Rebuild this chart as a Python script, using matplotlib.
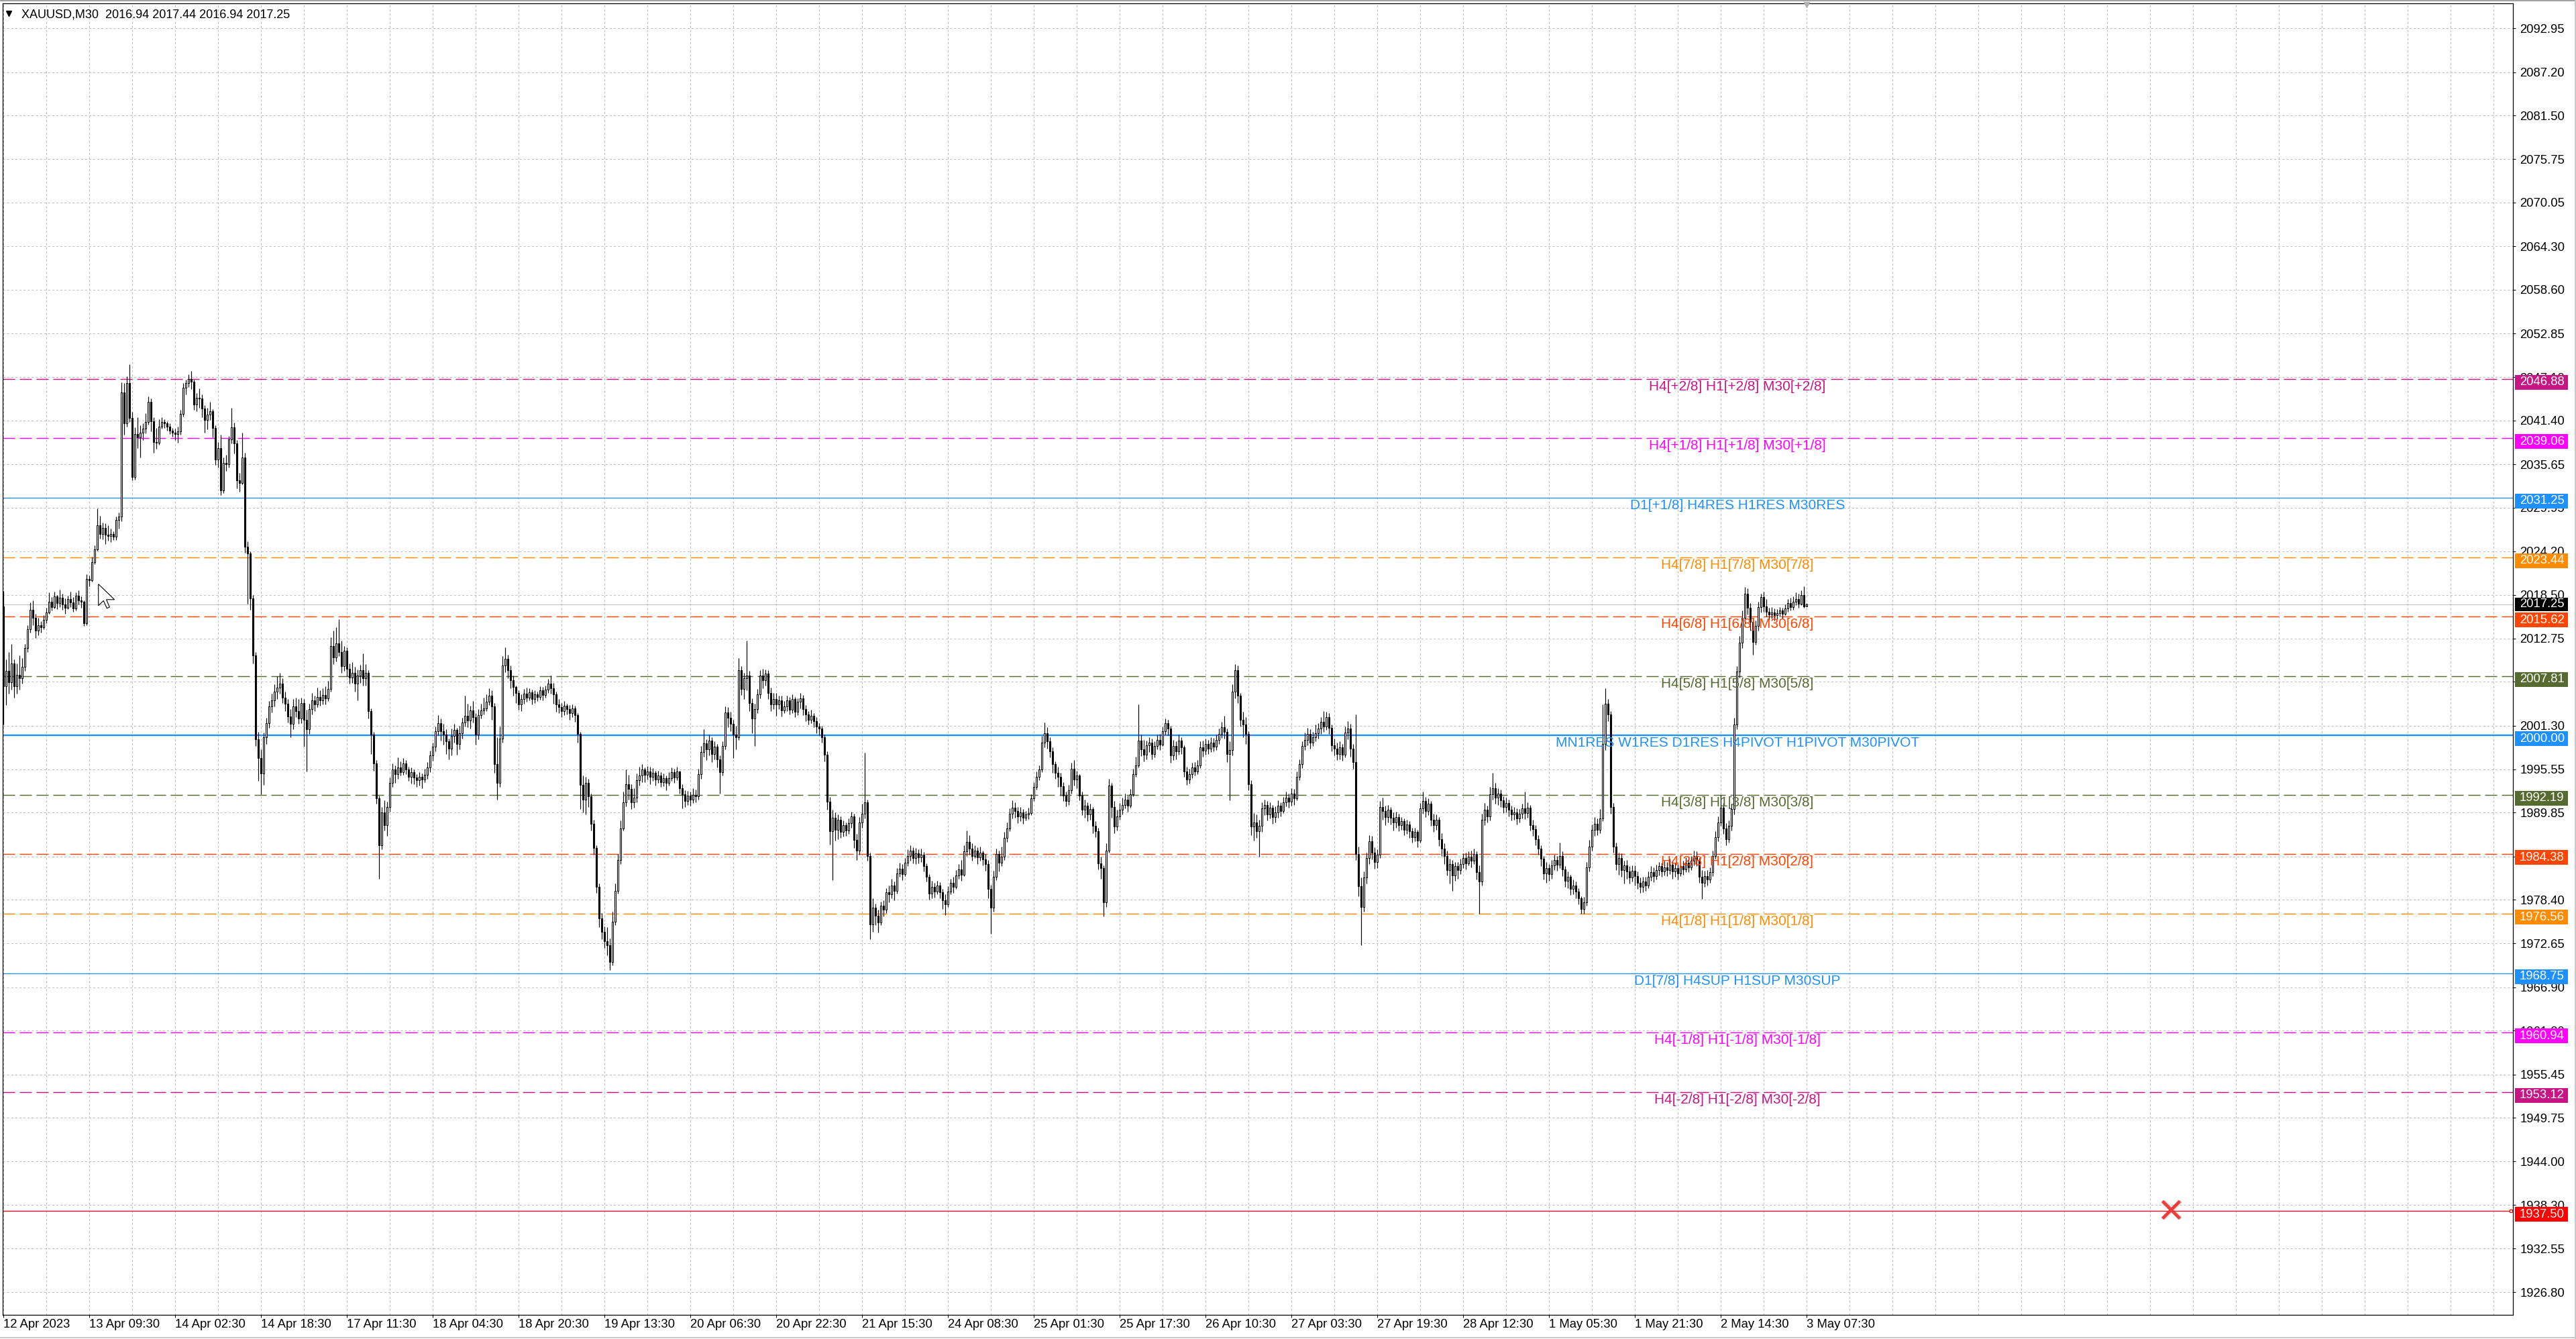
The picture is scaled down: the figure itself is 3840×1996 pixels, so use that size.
import numpy as np
import matplotlib
matplotlib.use("Agg")
import matplotlib.pyplot as plt
from matplotlib.patches import Rectangle, Polygon
from matplotlib.transforms import blended_transform_factory
from matplotlib.lines import Line2D

plt.rcParams['lines.scale_dashes'] = False
plt.rcParams['font.family'] = ['Liberation Sans', 'DejaVu Sans']

# ---------------- data ----------------
title_text = "XAUUSD,M30  2016.94 2017.44 2016.94 2017.25"

first_open = 2017.0

close = [
    2006.5, 2008.5, 2007.0, 2009.5, 2006.5, 2008.0, 2007.5, 2009.0, 2011.5, 2014.0, 2016.5, 2015.5, 2013.8, 2014.5, 2014.2, 2015.2,
    2016.2, 2017.6, 2016.9, 2018.3, 2017.4, 2018.1, 2017.2, 2016.8, 2017.9, 2017.5, 2016.7, 2018.4, 2017.8, 2017.6, 2014.8, 2020.6,
    2020.4, 2022.8, 2024.5, 2027.6, 2026.5, 2027.3, 2026.4, 2026.2, 2026.5, 2026.1, 2028.3, 2028.8, 2045.1, 2041.0, 2046.3, 2041.7,
    2034.0, 2039.6, 2039.2, 2039.8, 2040.3, 2041.2, 2043.9, 2041.3, 2038.6, 2038.5, 2040.6, 2041.2, 2041.0, 2040.6, 2040.1, 2039.8,
    2039.6, 2040.0, 2042.3, 2045.7, 2046.3, 2046.9, 2046.5, 2043.5, 2044.4, 2044.3, 2043.0, 2041.5, 2042.2, 2042.6, 2040.4, 2036.3,
    2037.8, 2032.2, 2035.8, 2035.7, 2038.9, 2040.5, 2038.4, 2033.5, 2033.2, 2036.5, 2024.8, 2023.9, 2018.0, 2010.5, 1999.5, 1997.0,
    1995.0, 1999.8, 2001.6, 2003.8, 2004.6, 2005.8, 2006.3, 2006.8, 2005.0, 2004.2, 2002.5, 2001.5, 2003.8, 2003.2, 2002.2, 2004.3,
    2002.1, 2000.8, 2003.5, 2004.6, 2004.1, 2005.1, 2004.6, 2005.3, 2004.9, 2006.1, 2011.8, 2010.3, 2012.1, 2011.0, 2009.1, 2011.1,
    2008.8, 2007.6, 2008.2, 2006.8, 2007.9, 2008.6, 2007.5, 2008.2, 2003.2, 2000.1, 1996.3, 1991.7, 1985.6, 1989.9, 1988.2, 1990.6,
    1993.8, 1995.5, 1994.9, 1995.8, 1995.2, 1996.3, 1995.5, 1994.6, 1995.2, 1994.5, 1994.1, 1994.6, 1994.2, 1994.8, 1995.8, 1997.4,
    1998.5, 2000.6, 2001.6, 2000.6, 2000.1, 1999.2, 1998.3, 1999.9, 2000.7, 1998.9, 2000.3, 2001.7, 2002.6, 2002.0, 2003.3, 2002.4,
    2000.1, 2002.7, 2003.3, 2003.6, 2004.4, 2005.2, 2003.8, 1996.2, 1993.8, 1999.6, 2009.2, 2010.1, 2008.6, 2007.3, 2006.4, 2005.6,
    2004.1, 2004.8, 2005.5, 2005.0, 2005.7, 2004.8, 2005.4, 2005.1, 2005.9, 2005.3, 2006.0, 2006.8, 2006.2, 2005.4, 2004.1, 2003.7,
    2003.2, 2003.9, 2003.5, 2002.9, 2003.6, 2002.7, 2000.2, 1993.5, 1991.6, 1993.8, 1992.0, 1988.4, 1985.2, 1980.1, 1976.0, 1974.2,
    1973.0, 1972.4, 1970.2, 1975.5, 1979.6, 1983.6, 1987.8, 1991.2, 1993.6, 1993.0, 1991.2, 1991.8, 1994.1, 1994.7, 1995.5, 1994.8,
    1995.3, 1994.6, 1995.1, 1994.2, 1994.7, 1993.9, 1994.4, 1993.8, 1994.4, 1995.2, 1994.5, 1995.3, 1993.1, 1992.3, 1991.4, 1992.1,
    1991.6, 1992.2, 1992.0, 1994.9, 1997.8, 1999.0, 1998.2, 1999.3, 1997.6, 1998.5, 1996.9, 1995.2, 1998.6, 2003.0, 2002.3, 2001.5,
    2000.1, 1999.8, 2008.6, 2006.1, 2007.5, 2007.9, 2004.3, 2002.2, 2003.5, 2005.4, 2007.9, 2007.3, 2008.1, 2005.6, 2004.1, 2004.8,
    2004.1, 2004.6, 2003.3, 2003.8, 2004.6, 2003.4, 2004.8, 2003.1, 2004.4, 2004.9, 2003.5, 2002.8, 2002.1, 2002.6, 2001.9, 2001.2,
    2000.9, 1999.8, 1997.5, 1991.3, 1987.4, 1989.2, 1987.6, 1988.9, 1987.3, 1988.2, 1987.5, 1988.5, 1989.4, 1986.3, 1984.9, 1988.6,
    1989.7, 1991.2, 1984.2, 1975.2, 1977.4, 1976.3, 1975.4, 1977.6, 1977.1, 1979.4, 1979.1, 1980.3, 1979.6, 1981.9, 1982.5, 1981.8,
    1983.3, 1984.2, 1984.9, 1983.9, 1984.5, 1984.0, 1984.3, 1982.8, 1981.4, 1979.2, 1980.1, 1979.5, 1980.3, 1979.4, 1978.3, 1977.8,
    1979.5, 1980.6, 1980.1, 1981.6, 1982.4, 1981.7, 1984.8, 1986.0, 1985.1, 1984.2, 1984.9, 1984.0, 1984.6, 1983.7, 1983.1, 1979.8,
    1977.4, 1981.4, 1984.4, 1983.3, 1984.1, 1986.5, 1987.8, 1989.7, 1990.5, 1990.1, 1989.4, 1989.9, 1989.2, 1989.6, 1989.8, 1991.7,
    1993.2, 1994.6, 1995.5, 1999.1, 2000.3, 1999.2, 1997.9, 1996.2, 1995.1, 1994.6, 1993.3, 1992.1, 1991.4, 1992.8, 1995.6, 1994.2,
    1994.7, 1992.1, 1990.2, 1990.8, 1989.6, 1990.3, 1988.1, 1987.4, 1983.2, 1982.6, 1978.1, 1984.9, 1993.4, 1990.6, 1988.0, 1989.4,
    1990.2, 1990.9, 1991.6, 1990.8, 1992.3, 1994.9, 1996.1, 1999.3, 1998.2, 1997.5, 1998.7, 1999.1, 1997.6, 1998.6, 1999.4, 1998.8,
    2000.6, 2001.6, 2000.9, 1997.4, 1998.6, 1997.9, 1999.3, 1998.4, 1995.3, 1994.2, 1994.9, 1995.8, 1995.3, 1996.1, 1998.4, 1998.0,
    1998.9, 1998.3, 1999.1, 1998.5, 1999.4, 2000.2, 2001.1, 2000.5, 1997.6, 1998.1, 2005.8, 2008.6, 2005.2, 2002.1, 2001.4, 2000.2,
    1993.6, 1988.0, 1988.6, 1987.4, 1988.1, 1990.4, 1990.9, 1989.6, 1990.5, 1989.3, 1989.9, 1990.8, 1990.1, 1991.2, 1991.8, 1991.3,
    1992.4, 1991.7, 1994.6, 1996.2, 1998.6, 1999.4, 2000.2, 1999.1, 1999.8, 2000.3, 2000.9, 2001.8, 2001.2, 2002.4, 2001.0, 1998.7,
    1998.3, 1997.6, 1998.4, 1997.5, 2000.4, 2000.9, 1998.3, 1996.5, 1984.4, 1980.2, 1977.5, 1981.3, 1983.9, 1986.1, 1984.6, 1983.4,
    1984.3, 1990.6, 1990.1, 1989.3, 1990.2, 1989.2, 1988.6, 1989.3, 1988.2, 1988.7, 1987.6, 1988.3, 1987.4, 1986.6, 1987.3, 1986.2,
    1990.4, 1991.4, 1990.1, 1991.0, 1988.9, 1988.2, 1988.9, 1986.4, 1985.1, 1984.2, 1982.3, 1983.1, 1981.6, 1982.8, 1982.3, 1983.1,
    1983.9, 1983.2, 1984.1, 1983.5, 1984.4, 1982.0, 1980.8, 1988.9, 1990.2, 1989.4, 1992.3, 1993.1, 1991.8, 1992.4, 1991.5, 1990.6,
    1991.1, 1990.2, 1989.6, 1989.9, 1989.1, 1989.7, 1990.4, 1989.8, 1990.5, 1988.2, 1987.7, 1986.4, 1985.1, 1983.8, 1981.9, 1982.6,
    1981.8, 1982.9, 1983.6, 1983.0, 1984.2, 1982.4, 1980.9, 1981.4, 1979.8, 1980.3, 1979.5, 1978.6, 1977.2, 1978.1, 1982.7, 1985.4,
    1987.6, 1988.4, 1987.6, 1989.1, 1998.9, 2004.2, 2002.8, 1990.6, 1985.4, 1983.1, 1983.9, 1982.3, 1982.9, 1982.1, 1981.3, 1982.2,
    1981.5, 1980.6, 1980.1, 1980.8, 1980.3, 1981.4, 1982.0, 1981.5, 1982.3, 1982.8, 1982.1, 1982.7, 1982.3, 1983.0, 1982.1, 1982.6,
    1981.9, 1982.8, 1982.4, 1983.3, 1982.7, 1983.5, 1984.2, 1983.6, 1981.4, 1980.6, 1981.5, 1981.1, 1982.0, 1984.2, 1986.6, 1988.6,
    1990.5, 1987.8, 1986.4, 1988.1, 1990.3, 2001.4, 2008.4, 2012.2, 2015.5, 2018.6, 2016.8, 2014.9, 2012.3, 2014.4, 2016.9, 2018.2,
    2017.0, 2016.3, 2015.9, 2016.2, 2015.8, 2016.1, 2016.4, 2016.0, 2016.7, 2017.4, 2016.9, 2017.6, 2017.9, 2017.3, 2018.5, 2016.94, 2017.25,
]

high = [
    2019.0, 2010.0, 2011.0, 2012.0, 2010.0, 2009.5, 2010.5, 2010.2, 2012.0, 2014.5, 2017.5, 2017.8, 2016.0, 2015.5, 2015.0, 2015.8,
    2016.8, 2018.8, 2018.2, 2018.9, 2018.5, 2019.2, 2018.6, 2018.0, 2018.4, 2018.9, 2018.2, 2018.8, 2019.1, 2018.3, 2017.8, 2021.2,
    2021.0, 2023.5, 2025.0, 2029.8, 2028.9, 2028.0, 2027.9, 2027.6, 2027.2, 2026.8, 2028.8, 2029.3, 2046.4, 2046.3, 2047.2, 2048.8,
    2042.5, 2040.5, 2041.8, 2040.8, 2041.0, 2042.4, 2044.6, 2044.3, 2041.8, 2040.4, 2041.6, 2041.8, 2041.6, 2041.3, 2041.0, 2040.4,
    2040.3, 2040.6, 2042.8, 2046.3, 2046.8, 2047.5, 2047.9, 2046.8, 2045.0, 2045.6, 2044.8, 2043.4, 2043.1, 2043.9, 2042.9, 2040.8,
    2038.6, 2039.5, 2036.5, 2036.9, 2039.4, 2043.1, 2041.1, 2038.8, 2034.5, 2039.8, 2037.2, 2025.5, 2024.2, 2018.5, 2011.0, 2000.5,
    1998.2, 2000.4, 2002.3, 2004.5, 2005.5, 2006.7, 2007.8, 2008.2, 2007.5, 2005.8, 2004.8, 2003.5, 2004.8, 2005.0, 2004.8, 2005.0,
    2004.8, 2003.4, 2004.2, 2005.6, 2005.2, 2006.3, 2005.9, 2006.2, 2006.5, 2007.2, 2012.9, 2013.8, 2014.2, 2015.3, 2012.5, 2011.8,
    2011.6, 2009.5, 2009.6, 2009.0, 2008.7, 2009.3, 2010.8, 2009.4, 2008.6, 2003.6, 2000.5, 1996.8, 1992.1, 1990.6, 1991.5, 1991.3,
    1994.5, 1996.3, 1996.1, 1997.1, 1996.6, 1997.0, 1996.8, 1995.9, 1995.8, 1995.5, 1994.9, 1995.2, 1995.0, 1995.6, 1996.5, 1998.0,
    1999.1, 2001.2, 2002.7, 2002.2, 2001.5, 2000.8, 1999.6, 2000.9, 2001.5, 2001.0, 2001.3, 2002.3, 2005.2, 2004.2, 2003.9, 2004.5,
    2002.9, 2003.5, 2004.2, 2005.0, 2005.4, 2006.2, 2005.9, 2004.3, 1999.8, 2001.2, 2010.4, 2011.6, 2010.6, 2009.2, 2007.9, 2006.6,
    2005.9, 2005.4, 2006.1, 2006.3, 2006.2, 2006.0, 2005.9, 2005.8, 2006.5, 2006.4, 2006.6, 2007.4, 2007.9, 2006.9, 2005.8, 2004.8,
    2004.3, 2004.5, 2004.2, 2004.0, 2004.1, 2003.9, 2002.9, 2000.5, 1994.7, 1994.6, 1994.3, 1992.4, 1988.9, 1985.6, 1980.5, 1976.7,
    1974.9, 1974.8, 1973.3, 1976.8, 1980.5, 1984.4, 1988.8, 1992.6, 1995.5, 1994.8, 1993.6, 1993.1, 1995.0, 1995.9, 1996.2, 1995.8,
    1996.0, 1995.9, 1995.7, 1995.4, 1995.4, 1995.2, 1995.0, 1994.7, 1995.2, 1995.8, 1995.6, 1995.9, 1995.4, 1993.6, 1992.8, 1992.7,
    1992.6, 1993.1, 1992.9, 1995.6, 1998.6, 2000.8, 1999.5, 2000.1, 1999.8, 1999.2, 1998.9, 1997.4, 1999.2, 2003.8, 2003.7, 2003.1,
    2002.1, 2001.3, 2010.2, 2009.1, 2008.2, 2012.5, 2008.5, 2004.9, 2004.2, 2006.1, 2008.6, 2008.8, 2008.7, 2008.6, 2006.3, 2005.6,
    2005.6, 2005.2, 2005.2, 2004.5, 2005.2, 2005.1, 2005.4, 2005.1, 2004.9, 2005.6, 2005.3, 2004.0, 2003.2, 2003.4, 2002.9, 2002.4,
    2001.6, 2001.3, 2000.1, 1997.9, 1991.9, 1990.2, 1989.9, 1989.6, 1989.4, 1988.8, 1988.6, 1989.1, 1990.0, 1989.7, 1987.1, 1989.3,
    1991.0, 1997.7, 1991.6, 1984.6, 1978.6, 1977.9, 1977.1, 1978.2, 1978.3, 1979.9, 1980.3, 1981.2, 1980.8, 1982.6, 1983.3, 1983.1,
    1983.9, 1985.0, 1985.6, 1985.3, 1985.2, 1985.0, 1985.1, 1984.7, 1983.2, 1981.8, 1980.9, 1980.6, 1980.9, 1980.7, 1979.8, 1979.1,
    1980.2, 1981.2, 1981.4, 1982.3, 1983.1, 1983.6, 1985.6, 1987.5, 1986.9, 1985.8, 1985.6, 1985.3, 1985.4, 1984.9, 1984.4, 1983.6,
    1980.4, 1982.2, 1985.1, 1984.9, 1985.4, 1987.3, 1988.6, 1990.4, 1991.5, 1991.2, 1990.6, 1990.6, 1990.3, 1990.1, 1990.5, 1992.3,
    1993.9, 1995.3, 1996.1, 1999.9, 2001.7, 2001.1, 1999.8, 1998.4, 1996.6, 1995.9, 1995.1, 1993.9, 1992.6, 1993.5, 1996.4, 1996.8,
    1995.4, 1994.9, 1992.6, 1991.6, 1991.2, 1991.0, 1990.6, 1988.7, 1987.9, 1984.1, 1982.9, 1985.8, 1994.3, 1993.8, 1991.4, 1990.2,
    1991.1, 1991.8, 1992.4, 1992.1, 1993.0, 1995.6, 1997.2, 2004.1, 2000.1, 1999.4, 1999.3, 1999.8, 1999.6, 1999.2, 2000.1, 2000.2,
    2001.2, 2002.2, 2002.1, 2001.3, 1999.4, 1999.2, 2000.1, 1999.8, 1998.7, 1995.9, 1995.6, 1996.4, 1996.5, 1996.8, 1999.2, 1999.3,
    1999.6, 1999.4, 1999.8, 1999.7, 2000.1, 2000.9, 2001.8, 2002.6, 2000.9, 1999.2, 2006.7, 2009.4, 2009.2, 2005.6, 2003.1, 2002.4,
    2000.6, 1994.1, 1989.8, 1989.6, 1988.9, 1991.2, 1991.6, 1991.4, 1991.2, 1990.9, 1990.7, 1991.5, 1991.2, 1991.9, 1992.6, 1992.4,
    1993.1, 1993.0, 1995.3, 1996.9, 1999.2, 2000.4, 2001.0, 2000.8, 2000.5, 2001.4, 2001.6, 2002.4, 2003.2, 2003.1, 2002.9, 2001.4,
    1999.6, 1999.1, 1999.2, 1998.9, 2001.2, 2001.9, 2001.5, 1998.9, 2002.8, 1985.4, 1981.3, 1982.1, 1984.6, 1986.9, 1986.8, 1985.3,
    1985.0, 1991.4, 1991.8, 1990.8, 1990.9, 1990.6, 1989.9, 1990.0, 1989.7, 1989.3, 1989.1, 1988.9, 1988.7, 1987.9, 1987.9, 1987.6,
    1991.1, 1992.6, 1991.9, 1991.7, 1991.4, 1989.7, 1989.6, 1989.3, 1987.2, 1985.8, 1984.9, 1983.8, 1983.6, 1983.4, 1983.4, 1983.8,
    1984.5, 1984.6, 1984.8, 1984.9, 1985.1, 1984.8, 1982.9, 1989.7, 1991.1, 1990.8, 1993.2, 1995.1, 1993.8, 1993.1, 1992.9, 1992.0,
    1991.8, 1991.6, 1990.8, 1990.6, 1990.4, 1990.3, 1991.0, 1992.6, 1991.2, 1990.9, 1988.9, 1988.2, 1986.9, 1985.6, 1984.2, 1983.4,
    1983.1, 1983.6, 1984.3, 1984.2, 1985.9, 1984.8, 1982.8, 1982.1, 1981.7, 1981.1, 1980.8, 1979.9, 1978.9, 1978.8, 1983.4, 1986.3,
    1988.3, 1989.3, 1989.1, 1990.3, 2004.1, 2006.2, 2004.8, 2003.2, 1991.1, 1985.9, 1984.6, 1984.5, 1983.5, 1983.6, 1982.8, 1982.9,
    1982.9, 1982.1, 1981.3, 1981.4, 1981.4, 1982.1, 1982.8, 1982.7, 1983.0, 1983.4, 1983.3, 1983.5, 1983.4, 1983.8, 1983.5, 1983.3,
    1983.1, 1983.4, 1983.5, 1984.0, 1984.1, 1984.2, 1984.9, 1984.8, 1983.9, 1982.3, 1982.2, 1982.3, 1982.7, 1984.9, 1987.4, 1989.4,
    1992.2, 1991.1, 1988.5, 1988.8, 1991.0, 2002.3, 2009.1, 2013.1, 2016.4, 2019.5, 2019.3, 2017.4, 2015.5, 2015.1, 2017.6, 2018.6,
    2018.9, 2017.9, 2016.8, 2016.9, 2016.7, 2016.6, 2016.9, 2016.8, 2017.2, 2017.9, 2018.1, 2018.3, 2018.8, 2018.6, 2019.1, 2019.6, 2017.44,
]

low = [
    2001.4, 2004.0, 2005.5, 2006.0, 2005.0, 2005.5, 2006.0, 2006.8, 2008.5, 2011.0, 2013.5, 2014.5, 2012.8, 2013.2, 2013.5, 2014.0,
    2014.8, 2016.0, 2016.4, 2016.7, 2016.6, 2016.9, 2016.5, 2016.0, 2016.6, 2016.9, 2016.3, 2016.4, 2017.2, 2016.8, 2014.4, 2014.5,
    2019.6, 2020.2, 2022.5, 2024.3, 2025.9, 2025.8, 2025.2, 2025.6, 2025.4, 2025.7, 2025.7, 2027.2, 2028.2, 2039.5, 2040.6, 2041.2,
    2033.5, 2033.6, 2037.8, 2036.5, 2038.8, 2039.7, 2040.9, 2040.0, 2037.2, 2037.7, 2038.2, 2040.3, 2040.4, 2040.1, 2039.6, 2039.3,
    2038.8, 2038.5, 2039.5, 2041.9, 2044.8, 2045.8, 2045.5, 2042.8, 2042.6, 2043.1, 2041.8, 2039.8, 2040.2, 2041.5, 2039.2, 2035.6,
    2035.2, 2031.6, 2031.9, 2034.8, 2035.2, 2038.4, 2037.1, 2032.5, 2032.0, 2033.0, 2024.0, 2017.3, 2016.5, 2009.5, 1998.6, 1994.0,
    1992.3, 1993.5, 1998.9, 2001.0, 2003.0, 2003.8, 2004.8, 2005.5, 2004.3, 2003.2, 2001.7, 1999.8, 2000.8, 2002.4, 2001.5, 2001.6,
    1998.5, 1995.3, 2000.2, 2002.8, 2003.2, 2003.7, 2003.9, 2004.1, 2004.1, 2004.5, 2005.8, 2009.4, 2009.7, 2010.4, 2008.2, 2008.5,
    2007.8, 2006.8, 2006.9, 2005.8, 2004.6, 2006.9, 2006.6, 2006.6, 2002.2, 1997.6, 1995.4, 1991.0, 1981.2, 1985.0, 1987.5, 1986.8,
    1990.0, 1993.2, 1993.8, 1994.3, 1994.7, 1994.8, 1994.9, 1994.0, 1993.7, 1993.6, 1993.2, 1993.4, 1993.1, 1993.9, 1994.3, 1995.2,
    1996.7, 1997.9, 2000.0, 1999.3, 1998.8, 1997.6, 1996.9, 1997.4, 1999.1, 1997.5, 1998.2, 1999.6, 2001.2, 2001.1, 2000.9, 2001.7,
    1998.8, 1999.5, 2002.2, 2002.8, 2003.2, 2004.0, 2002.1, 1995.1, 1991.6, 1993.2, 1999.1, 2008.3, 2007.5, 2006.2, 2005.2, 2004.3,
    2003.4, 2003.2, 2004.2, 2004.4, 2004.6, 2004.1, 2004.3, 2004.5, 2004.7, 2004.6, 2005.0, 2005.6, 2005.5, 2004.2, 2003.1, 2002.9,
    2002.4, 2002.7, 2002.8, 2002.1, 2002.4, 2001.8, 1999.1, 1990.3, 1989.9, 1989.6, 1990.6, 1987.5, 1984.3, 1979.3, 1974.8, 1973.2,
    1972.1, 1971.1, 1969.2, 1969.8, 1975.1, 1979.2, 1983.1, 1987.5, 1990.7, 1991.6, 1990.3, 1990.5, 1991.2, 1993.4, 1993.9, 1993.9,
    1994.2, 1993.6, 1994.0, 1993.4, 1993.8, 1993.2, 1993.3, 1992.8, 1993.4, 1994.0, 1993.8, 1994.1, 1992.4, 1990.4, 1990.6, 1990.9,
    1990.8, 1991.1, 1991.2, 1991.6, 1994.3, 1997.2, 1996.8, 1997.4, 1996.5, 1996.9, 1995.8, 1992.4, 1994.7, 1998.2, 2001.1, 2000.6,
    1997.0, 1998.2, 1999.4, 2005.3, 2004.8, 2005.9, 2003.2, 2000.3, 1998.6, 2002.9, 2004.9, 2006.2, 2006.6, 2004.8, 2003.2, 2003.5,
    2002.6, 2003.5, 2002.5, 2002.9, 2003.2, 2002.8, 2002.9, 2002.4, 2002.7, 2003.6, 2002.7, 2001.9, 2001.4, 2001.6, 2001.1, 2000.3,
    2000.0, 1999.1, 1996.6, 1990.2, 1985.7, 1981.0, 1986.2, 1986.4, 1986.5, 1986.7, 1986.8, 1987.1, 1987.9, 1985.2, 1983.6, 1984.3,
    1987.9, 1989.1, 1983.5, 1973.2, 1974.2, 1975.1, 1974.1, 1975.1, 1976.2, 1976.7, 1978.1, 1978.6, 1978.3, 1979.2, 1981.4, 1981.0,
    1981.5, 1982.8, 1983.5, 1983.2, 1983.1, 1983.2, 1983.4, 1982.1, 1980.8, 1978.4, 1978.6, 1978.7, 1979.1, 1978.6, 1977.2, 1976.4,
    1977.5, 1979.1, 1979.3, 1979.8, 1981.2, 1980.9, 1981.5, 1984.2, 1984.3, 1983.5, 1983.9, 1983.1, 1983.5, 1982.9, 1982.2, 1978.6,
    1973.9, 1976.8, 1981.0, 1982.1, 1982.8, 1983.6, 1986.0, 1987.4, 1989.1, 1989.2, 1988.5, 1988.7, 1988.4, 1988.8, 1989.0, 1989.5,
    1991.4, 1992.9, 1994.1, 1995.2, 1998.4, 1998.3, 1997.1, 1995.1, 1994.3, 1993.2, 1992.1, 1991.4, 1990.7, 1990.9, 1992.4, 1993.4,
    1993.1, 1991.5, 1989.5, 1989.2, 1988.7, 1988.9, 1987.2, 1986.6, 1982.4, 1981.2, 1976.2, 1977.5, 1984.6, 1989.2, 1987.2, 1987.5,
    1988.9, 1989.6, 1990.4, 1990.0, 1990.5, 1992.0, 1994.6, 1995.8, 1997.3, 1996.6, 1996.9, 1997.8, 1996.9, 1997.1, 1998.2, 1998.1,
    1998.6, 2000.1, 2000.0, 1996.4, 1996.8, 1996.9, 1997.5, 1997.6, 1994.6, 1993.5, 1993.7, 1994.4, 1994.7, 1994.9, 1995.7, 1997.2,
    1997.5, 1997.6, 1997.8, 1997.9, 1998.1, 1998.9, 1999.7, 1999.6, 1996.5, 1991.5, 1997.4, 2004.9, 2004.3, 2001.2, 1999.8, 1998.9,
    1992.8, 1986.9, 1986.2, 1986.5, 1984.1, 1987.3, 1989.5, 1988.8, 1989.1, 1988.4, 1988.6, 1989.2, 1989.4, 1989.8, 1990.7, 1990.5,
    1990.8, 1990.9, 1991.5, 1994.1, 1995.7, 1998.1, 1998.7, 1998.3, 1998.6, 1999.2, 1999.6, 2000.2, 2000.5, 2000.7, 2000.2, 1997.9,
    1997.4, 1996.8, 1996.9, 1996.7, 1997.1, 1999.5, 1997.2, 1995.6, 1983.6, 1978.9, 1972.4, 1976.8, 1980.5, 1983.1, 1983.7, 1982.5,
    1982.6, 1983.9, 1988.9, 1988.2, 1988.6, 1988.3, 1987.5, 1987.9, 1987.4, 1987.6, 1986.9, 1987.1, 1986.5, 1985.9, 1986.1, 1985.3,
    1985.9, 1989.7, 1989.3, 1989.5, 1988.1, 1987.3, 1987.6, 1985.5, 1984.2, 1983.1, 1981.6, 1980.5, 1979.6, 1980.9, 1981.2, 1981.8,
    1982.6, 1982.4, 1982.9, 1982.7, 1983.1, 1981.1, 1976.6, 1980.3, 1988.2, 1988.6, 1988.8, 1991.6, 1991.0, 1990.9, 1990.6, 1989.8,
    1989.9, 1989.4, 1988.8, 1988.9, 1988.3, 1988.6, 1989.1, 1989.0, 1989.2, 1987.5, 1986.8, 1985.6, 1984.3, 1982.8, 1981.1, 1980.6,
    1980.9, 1981.2, 1982.3, 1982.2, 1982.6, 1981.5, 1980.1, 1979.9, 1979.0, 1979.1, 1978.6, 1977.8, 1976.6, 1976.6, 1977.6, 1982.1,
    1984.9, 1986.8, 1986.9, 1987.2, 1988.7, 1998.1, 2001.9, 1989.7, 1984.6, 1982.3, 1981.7, 1981.4, 1980.5, 1981.2, 1980.5, 1980.8,
    1980.3, 1979.8, 1979.3, 1979.4, 1979.6, 1979.9, 1980.9, 1980.7, 1981.1, 1981.6, 1981.4, 1981.6, 1981.5, 1981.8, 1981.2, 1981.4,
    1981.1, 1981.5, 1981.7, 1982.0, 1982.0, 1982.3, 1982.9, 1982.8, 1980.6, 1978.5, 1980.1, 1980.3, 1980.6, 1981.5, 1983.8, 1986.1,
    1988.1, 1987.1, 1985.6, 1985.9, 1987.5, 1989.6, 2000.8, 2007.6, 2011.5, 2014.8, 2015.9, 2013.8, 2010.6, 2011.9, 2013.8, 2016.2,
    2016.3, 2015.6, 2015.2, 2015.4, 2015.1, 2015.3, 2015.6, 2015.4, 2015.8, 2016.3, 2016.4, 2016.5, 2017.1, 2016.8, 2017.1, 2016.8, 2016.94,
]

x_tick_labels = ["12 Apr 2023", "13 Apr 09:30", "14 Apr 02:30", "14 Apr 18:30", "17 Apr 11:30",
                 "18 Apr 04:30", "18 Apr 20:30", "19 Apr 13:30", "20 Apr 06:30", "20 Apr 22:30",
                 "21 Apr 15:30", "24 Apr 08:30", "25 Apr 01:30", "25 Apr 17:30", "26 Apr 10:30",
                 "27 Apr 03:30", "27 Apr 19:30", "28 Apr 12:30", "1 May 05:30", "1 May 21:30",
                 "2 May 14:30", "3 May 07:30"]

y_ticks = [2092.95, 2087.20, 2081.50, 2075.75, 2070.05, 2064.30, 2058.60, 2052.85, 2047.10,
           2041.40, 2035.65, 2029.95, 2024.20, 2018.50, 2012.75, 2007.05, 2001.30, 1995.55,
           1989.85, 1984.10, 1978.40, 1972.65, 1966.90, 1961.20, 1955.45, 1949.75, 1944.00,
           1938.30, 1932.55, 1926.80]

levels = [2046.88, 2039.06, 2031.25, 2023.44, 2015.62, 2007.81, 2000.00,
          1992.19, 1984.38, 1976.56, 1968.75, 1960.94, 1953.12]
level_labels = ["H4[+2/8] H1[+2/8] M30[+2/8]", "H4[+1/8] H1[+1/8] M30[+1/8]",
                "D1[+1/8] H4RES H1RES M30RES", "H4[7/8] H1[7/8] M30[7/8]",
                "H4[6/8] H1[6/8] M30[6/8]", "H4[5/8] H1[5/8] M30[5/8]",
                "MN1RES W1RES D1RES H4PIVOT H1PIVOT M30PIVOT",
                "H4[3/8] H1[3/8] M30[3/8]", "H4[2/8] H1[2/8] M30[2/8]",
                "H4[1/8] H1[1/8] M30[1/8]", "D1[7/8] H4SUP H1SUP M30SUP",
                "H4[-1/8] H1[-1/8] M30[-1/8]", "H4[-2/8] H1[-2/8] M30[-2/8]"]
current_price = 2017.25
stop_price = 1937.50

# ---------------- styles / layout ----------------
C_MVR, C_MAG, C_DB, C_DO = "#C71585", "#FF00FF", "#1E90FF", "#FF8C00"
C_OR, C_DOG, C_RED = "#FF4500", "#556B2F", "#FF0000"
level_colors = [C_MVR, C_MAG, C_DB, C_DO, C_OR, C_DOG, C_DB, C_DOG, C_OR, C_DO, C_DB, C_MAG, C_MVR]
level_solid = [False, False, True, False, False, False, True, False, False, False, True, False, False]
level_lw = [1.05, 1.05, 0.95, 1.05, 1.05, 1.05, 1.7, 1.05, 1.05, 1.05, 0.95, 1.05, 1.05]

W, H = 3840, 1996
AX_L, AX_R, AX_T, AX_B = 4, 3746, 5, 1960
PX_PER_BAR, BAR0_PX = 4.0, 5.3
PX_PER_PRICE = 11.34
Y_TOP, Y_BOT = 2096.24, 1923.84


def bar_of_px(px):
    return (px - BAR0_PX) / PX_PER_BAR


fig = plt.figure(figsize=(W / 100, H / 100), dpi=100, facecolor="white")
ax = fig.add_axes([AX_L / W, 1 - AX_B / H, (AX_R - AX_L) / W, (AX_B - AX_T) / H])
ax.set_facecolor("white")
ax.set_xlim(bar_of_px(AX_L), bar_of_px(AX_R))
ax.set_ylim(Y_BOT, Y_TOP)

n = len(close)
assert len(high) == n and len(low) == n, (len(close), len(high), len(low))
c = np.array(close)
o = np.concatenate([[first_open], c[:-1]])
h = np.maximum(np.array(high), np.maximum(o, c))
l = np.minimum(np.array(low), np.minimum(o, c))
x = np.arange(n)

# grid
grid_kw = dict(color="#c0c0c0", lw=0.75, dashes=(2.2, 2.2), zorder=0.5)
for yt in y_ticks:
    ax.axhline(yt, **grid_kw)
for xv in range(0, int(bar_of_px(AX_R)) + 1, 16):
    ax.axvline(xv, **grid_kw)

# level lines
for p, col, solid, lw in zip(levels, level_colors, level_solid, level_lw):
    if solid:
        ax.axhline(p, color=col, lw=lw, zorder=1.5)
    else:
        ax.axhline(p, color=col, lw=lw, dashes=(13, 5), zorder=1.5)
ax.axhline(current_price, color="#c0c0c0", lw=0.8, zorder=1.4)
ax.axhline(stop_price, color=C_RED, lw=0.95, zorder=1.5)

# candles
ax.vlines(x, l, h, color="black", lw=0.85, zorder=3)
up = c >= o
ax.bar(x[up], c[up] - o[up], bottom=o[up], width=0.55, facecolor="white",
       edgecolor="black", linewidth=0.78, zorder=4)
ax.bar(x[~up], o[~up] - c[~up], bottom=c[~up], width=0.55, facecolor="black",
       edgecolor="black", linewidth=0.78, zorder=4)

# level labels
label_x = bar_of_px(2590)
for p, col, lab in zip(levels, level_colors, level_labels):
    ax.text(label_x, p - 2.0 / PX_PER_PRICE, lab, color=col, fontsize=15,
            ha="center", va="top", family=["Liberation Sans", "DejaVu Sans"], zorder=6)

# stop marker X and square
ax.plot([bar_of_px(3238)], [stop_price + 2.5 / PX_PER_PRICE], marker="x", ms=19, mew=3.6,
        color="#9a9a9a", alpha=0.35, zorder=6.5)
ax.plot([bar_of_px(3236.5)], [stop_price + 2.0 / PX_PER_PRICE + 0.05], marker="x", ms=19, mew=3.4,
        color="#f23b3b", zorder=7)
ax.plot([bar_of_px(3743)], [stop_price], marker="s", ms=3.2, mfc="white", mec=C_RED, mew=0.9,
        clip_on=False, zorder=8)

# shift marker at top
ax.plot([672], [Y_TOP - 2.5 / PX_PER_PRICE], marker="v", ms=6, color="#b0b0b0",
        clip_on=False, zorder=8)

# axes styling
for s in ax.spines.values():
    s.set_color("black")
    s.set_linewidth(0.9)
ax.yaxis.tick_right()
ax.set_yticks(y_ticks)
ax.set_yticklabels([f"{v:.2f}" for v in y_ticks])
ax.tick_params(axis="y", direction="out", length=3, width=0.72, pad=4.5,
               labelsize=13.3, colors="black", left=False)
ax.set_xticks(list(range(0, 32 * len(x_tick_labels), 32)))
ax.set_xticklabels(x_tick_labels)
for lab in ax.get_xticklabels():
    lab.set_ha("left")
ax.tick_params(axis="x", direction="out", length=3, width=0.72, pad=1.0,
               labelsize=13.3, colors="black")

# right-side price boxes
tr = blended_transform_factory(ax.transAxes, ax.transData)
box_x0 = (3749 - AX_L) / (AX_R - AX_L)
box_w = 79 / (AX_R - AX_L)
txt_x = (3756 - AX_L) / (AX_R - AX_L)
boxes = list(zip(levels, level_colors)) + [(stop_price, C_RED)]
for p, col in boxes:
    ax.add_patch(Rectangle((box_x0, p - 16 / PX_PER_PRICE), box_w, 22 / PX_PER_PRICE,
                           transform=tr, facecolor=col, edgecolor="none",
                           clip_on=False, zorder=10))
    ax.text(txt_x, p - 5 / PX_PER_PRICE, f"{p:.2f}", transform=tr, color="white",
            fontsize=13.3, ha="left", va="center", clip_on=False, zorder=11)
ax.add_patch(Rectangle((box_x0, current_price - 10 / PX_PER_PRICE), box_w, 20 / PX_PER_PRICE,
                       transform=tr, facecolor="black", edgecolor="none",
                       clip_on=False, zorder=10))
ax.text(txt_x, current_price, f"{current_price:.2f}", transform=tr, color="white",
        fontsize=13.3, ha="left", va="center", clip_on=False, zorder=11)

# title
fig.add_artist(Line2D([13.4 / W], [1 - 20 / H], marker="v", ms=6, color="black",
                      transform=fig.transFigure))
fig.text(32 / W, 1 - 22 / H, title_text, fontsize=13, ha="left", va="center", color="black")

# mouse cursor
cur = [(146.7, 870.7), (146.7, 902.7), (154.3, 895.5), (159.3, 906.7),
       (163.3, 905.0), (158.6, 893.8), (170.7, 893.8)]
fig.add_artist(Polygon([(px / W, 1 - py / H) for px, py in cur], closed=True,
                       facecolor="white", edgecolor="black", lw=0.8,
                       transform=fig.transFigure, zorder=20))

# outer window border
fig.add_artist(Line2D([0, 1], [1 - 1 / H, 1 - 1 / H], color="#a0a0a0", lw=1.4, transform=fig.transFigure))
fig.add_artist(Line2D([0, 1], [1 - 1994 / H, 1 - 1994 / H], color="#c8c8c8", lw=1.4, transform=fig.transFigure))
fig.add_artist(Line2D([3838.5 / W, 3838.5 / W], [0, 1], color="#c8c8c8", lw=1.4, transform=fig.transFigure))

fig.savefig("out.png", dpi=100, facecolor="white")
